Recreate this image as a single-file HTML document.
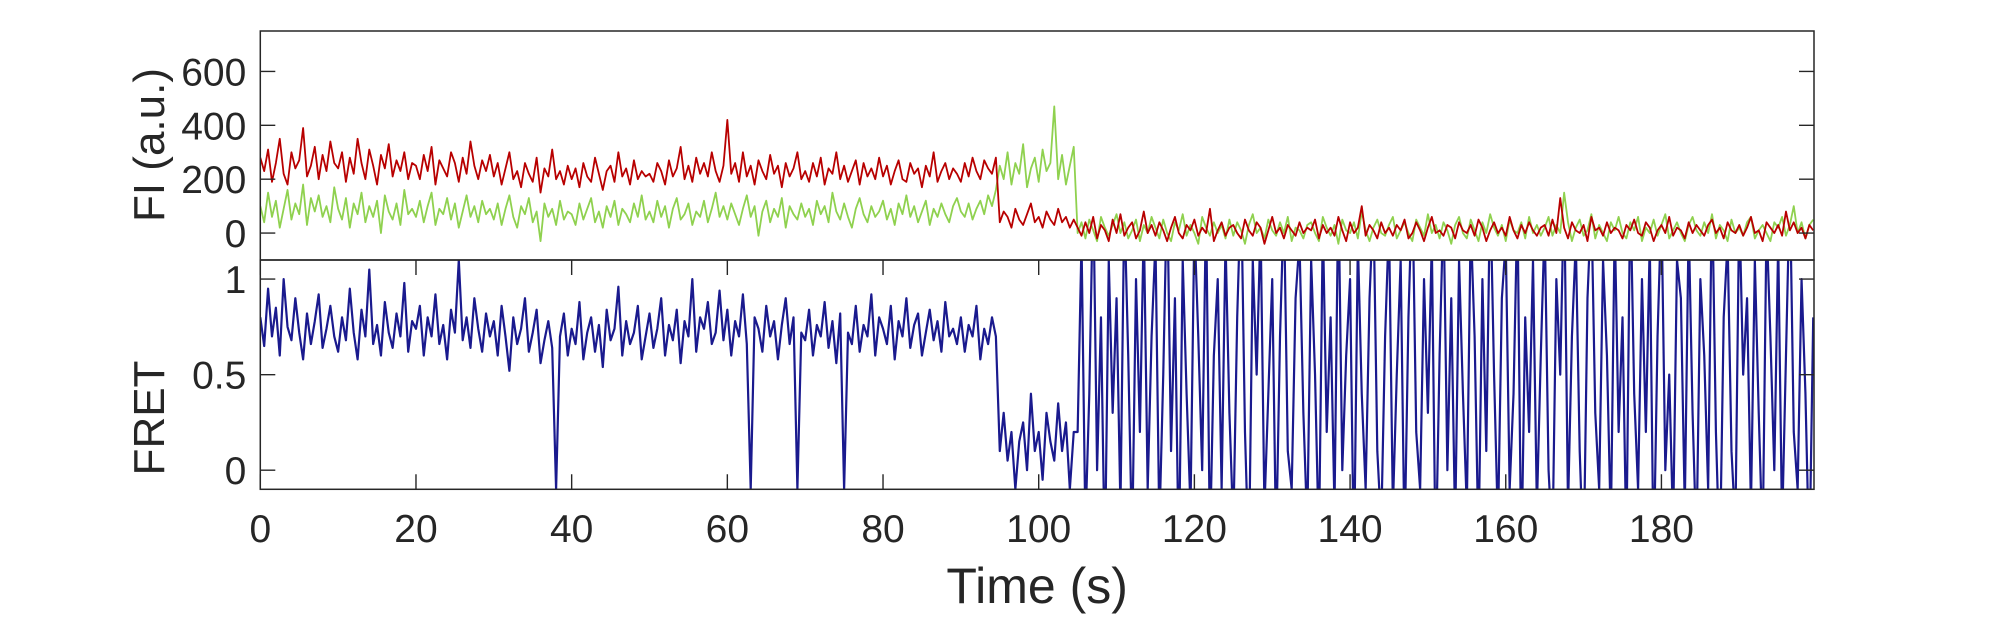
<!DOCTYPE html>
<html><head><meta charset="utf-8"><style>
html,body{margin:0;padding:0;background:#fff;}
svg{display:block;font-family:"Liberation Sans",Arial,sans-serif;}
</style></head><body>
<svg id="chart" width="2005" height="625" viewBox="0 0 2005 625" xmlns="http://www.w3.org/2000/svg">
<defs>
<clipPath id="clipTop"><rect x="260.3" y="31" width="1553.7" height="229"/></clipPath>
<clipPath id="clipBot"><rect x="260.3" y="260" width="1553.7" height="229.3"/></clipPath>
</defs>
<g id="topData" clip-path="url(#clipTop)"></g>
<g id="botData" clip-path="url(#clipBot)"></g>
<g id="axes"></g>
</svg>
<script>
const frameInterval = 0.5;
const acceptorValues = [
280,230,310,190,260,350,220,180,300,240,270,390,210,250,320,200,290,230,340,260,
240,300,190,280,220,350,260,200,310,250,180,290,240,330,210,270,230,300,200,260,
250,200,290,230,320,180,270,240,210,300,260,190,280,220,340,250,200,270,230,290,
210,260,180,240,300,200,230,170,260,220,190,280,150,240,210,310,200,230,180,250,
200,240,170,260,210,190,280,220,160,230,250,190,300,210,240,180,270,200,230,210,
220,190,260,230,180,270,210,240,320,200,250,190,280,220,260,210,300,230,190,250,
420,220,260,190,300,210,250,180,270,230,200,290,220,250,170,260,210,240,300,200,
230,190,260,210,280,180,240,220,300,200,250,190,230,270,180,260,210,240,200,280,
210,250,180,230,270,200,190,260,220,240,170,250,210,300,190,230,260,200,240,220,
190,260,210,280,230,200,270,240,220,280,
40,80,60,20,90,50,30,70,110,40,60,20,80,50,30,90,40,60,20,50,
20,-10,40,0,60,-20,30,10,-30,50,0,70,-10,20,40,-20,10,80,0,30,
-10,40,10,-30,20,60,0,-20,30,10,50,-10,20,0,90,-30,10,40,-10,20,
30,0,-20,50,10,-10,40,20,-40,10,60,0,20,-20,30,10,-10,40,0,20,
10,50,-20,30,0,20,-10,60,10,-30,40,0,20,100,-10,30,10,-20,40,0,
20,-10,30,10,50,-20,0,40,10,-30,20,60,0,10,-10,30,20,-20,40,10,
0,30,-10,50,20,-30,10,40,0,20,-10,60,10,-20,30,0,40,10,-10,20,
30,-10,50,0,130,20,-20,40,10,0,30,-30,60,10,20,-10,40,0,20,10,
-20,30,10,50,0,-10,40,20,-30,10,30,0,60,-10,20,10,-20,40,0,30,
10,-10,30,50,0,20,-20,40,10,0,30,-10,20,60,0,10,-30,40,20,0,
30,-10,80,10,40,0,20,-20,30,10];
const donorValues = [
100,40,150,60,120,20,90,160,50,110,70,180,30,130,80,140,60,100,40,170,
90,50,130,20,110,70,150,40,100,60,120,0,140,80,50,110,30,160,70,90,
60,120,40,100,150,30,90,70,130,50,110,20,80,140,60,100,40,120,70,90,
50,110,30,90,140,60,20,100,70,130,40,80,-30,110,60,90,30,120,50,80,
70,30,110,50,90,130,40,80,20,100,60,120,30,90,70,40,110,60,140,50,
80,40,120,60,100,20,90,130,50,70,110,30,80,60,120,40,90,150,60,100,
50,110,70,30,90,140,60,100,-10,80,120,40,90,60,130,20,100,70,50,110,
60,90,30,120,70,100,40,150,80,50,110,60,20,90,130,70,40,100,60,80,
120,50,90,30,110,70,140,60,100,40,80,120,30,90,60,110,70,40,100,130,
80,60,110,50,90,120,70,140,100,160,
250,200,300,180,260,220,330,170,240,280,190,310,230,260,470,200,290,180,250,320,
0,40,-20,50,10,-30,60,20,-10,30,70,0,40,-20,10,50,-30,30,0,60,
20,-20,50,0,-30,40,10,70,-10,30,0,-40,60,20,-10,40,0,30,-20,50,
-10,40,10,-40,30,70,0,20,-20,50,10,-10,40,0,60,-30,20,10,-20,30,
40,0,-30,60,20,-10,30,-40,50,10,0,40,-20,80,10,-30,20,50,0,-10,
30,60,-20,10,40,0,-30,50,20,-10,70,0,30,-20,40,10,-40,30,60,0,
-20,50,10,-30,40,0,70,20,-10,30,-30,50,10,0,40,-20,60,0,30,-10,
20,60,-10,30,0,150,40,-30,20,50,-10,10,70,-20,30,0,-30,40,10,60,
0,-20,40,10,60,-30,20,0,50,-10,30,70,-20,10,40,0,-30,30,60,10,
-10,40,0,70,-20,30,10,-30,50,0,20,-10,40,60,-20,10,30,0,-30,40,
20,60,-10,30,100,0,40,-20,30,50];
const fretValues = [
0.80,0.65,0.95,0.70,0.85,0.60,1.00,0.75,0.68,0.90,0.72,0.58,0.82,0.66,0.78,0.92,0.64,0.74,0.86,0.70,
0.62,0.80,0.68,0.95,0.72,0.58,0.84,0.70,1.05,0.66,0.76,0.60,0.88,0.72,0.64,0.82,0.70,0.98,0.62,0.78,
0.74,0.86,0.60,0.80,0.70,0.92,0.66,0.76,0.58,0.84,0.72,1.10,0.68,0.80,0.64,0.90,0.74,0.62,0.82,0.70,
0.78,0.60,0.86,0.70,0.52,0.80,0.66,0.74,0.90,0.62,0.72,0.84,0.56,0.68,0.78,0.64,-0.10,0.70,0.82,0.60,
0.74,0.66,0.88,0.58,0.72,0.80,0.62,0.76,0.54,0.84,0.68,0.74,0.96,0.60,0.78,0.66,0.72,0.86,0.58,0.70,
0.82,0.64,0.74,0.90,0.60,0.76,0.68,0.84,0.56,0.78,0.70,1.00,0.62,0.80,0.74,0.88,0.66,0.72,0.94,0.68,
0.84,0.60,0.78,0.70,0.92,0.66,-0.10,0.80,0.74,0.62,0.86,0.70,0.78,0.58,0.76,0.90,0.66,0.80,-0.10,0.72,
0.68,0.84,0.60,0.76,0.70,0.88,0.64,0.78,0.56,0.82,-0.10,0.72,0.66,0.86,0.62,0.76,0.70,0.92,0.60,0.80,
0.74,0.66,0.86,0.58,0.78,0.70,0.90,0.64,0.76,0.82,0.60,0.72,0.84,0.68,0.78,0.62,0.88,0.70,0.74,0.66,
0.80,0.62,0.76,0.70,0.86,0.58,0.74,0.66,0.80,0.70,
0.10,0.30,0.05,0.20,-0.10,0.15,0.25,0.00,0.40,0.10,0.20,-0.05,0.30,0.15,0.05,0.35,0.10,0.25,-0.10,0.20,
0.2,1.2,-0.3,0.4,1.5,0.0,0.8,-0.5,1.1,0.3,0.9,-0.2,1.4,0.6,-0.4,1.0,0.2,1.3,-0.1,0.7,
1.2,-0.3,0.5,1.5,0.1,0.9,-0.5,1.1,0.4,-0.2,1.3,0.7,0.0,1.4,-0.4,0.6,1.0,-0.1,1.2,0.3,
-0.3,0.8,1.5,0.2,-0.5,1.1,0.5,1.3,-0.2,0.4,1.0,-0.4,0.7,1.4,0.1,-0.1,0.9,1.2,0.3,-0.3,
1.1,0.5,-0.4,1.3,0.2,0.8,-0.2,1.5,0.0,0.6,1.0,-0.5,1.2,0.4,-0.1,0.9,1.4,0.1,-0.3,0.7,
1.3,-0.2,0.5,1.1,-0.4,0.8,1.5,0.2,-0.1,1.0,0.3,1.2,-0.5,0.6,1.4,0.0,0.9,-0.3,1.1,0.4,
-0.2,1.3,0.7,-0.4,1.0,0.1,1.5,0.5,-0.3,0.9,1.2,-0.1,0.4,1.4,-0.5,0.8,0.2,1.1,-0.2,0.6,
1.3,0.0,-0.4,1.0,0.5,1.5,-0.2,0.7,1.2,0.1,-0.5,0.9,1.4,0.3,-0.1,1.1,0.6,-0.3,1.3,0.2,
0.8,-0.4,1.5,0.4,-0.1,1.0,0.2,1.2,-0.5,0.7,1.4,0.0,0.5,-0.3,1.1,0.9,-0.2,1.3,0.3,-0.4,
1.0,0.6,-0.1,1.5,0.2,-0.5,0.8,1.2,0.1,-0.3,1.4,0.5,0.9,-0.2,1.1,0.3,-0.4,1.3,0.7,0.0,
1.2,-0.3,0.6,1.5,0.2,-0.1,1.0,0.4,-0.5,0.8];
const xTickValues = [0,20,40,60,80,100,120,140,160,180];
const fiTickValues = [0,200,400,600];
const fretTickValues = [0,0.5,1];
const fretTickLabels = ["0","0.5","1"];

const NS = "http://www.w3.org/2000/svg";
const X0 = 260.3, X1 = 1814, XMIN = 0, XMAX = 199.6;
const T0 = 31, T1 = 260, FMIN = -100, FMAX = 750;
const B0 = 260, B1 = 489.3, RMIN = -0.1, RMAX = 1.1;
const xs = t => X0 + (t - XMIN) / (XMAX - XMIN) * (X1 - X0);
const yTop = v => T1 - (v - FMIN) / (FMAX - FMIN) * (T1 - T0);
const yBot = v => B1 - (v - RMIN) / (RMAX - RMIN) * (B1 - B0);

function mk(tag, attrs, parent) {
  const e = document.createElementNS(NS, tag);
  for (const k in attrs) e.setAttribute(k, attrs[k]);
  parent.appendChild(e);
  return e;
}
function pathFor(vals, yf) {
  let d = "";
  vals.forEach((v, i) => { d += (i ? "L" : "M") + xs(i * frameInterval).toFixed(2) + "," + yf(v).toFixed(2); });
  return d;
}
const topG = document.getElementById("topData");
const botG = document.getElementById("botData");
const ax = document.getElementById("axes");

const gl = mk("path", {d: pathFor(donorValues, yTop), fill: "none", stroke: "#8fd14f", "stroke-width": 1.8, "stroke-linejoin": "round"}, topG);


const rl = mk("path", {d: pathFor(acceptorValues, yTop), fill: "none", stroke: "#b80000", "stroke-width": 1.8, "stroke-linejoin": "round"}, topG);


const bl = mk("path", {d: pathFor(fretValues, yBot), fill: "none", stroke: "#1a1a8e", "stroke-width": 2.2, "stroke-linejoin": "round"}, botG);



const AX = "#262626";
const boxT = mk("rect", {x: X0, y: T0, width: X1 - X0, height: T1 - T0, fill: "none", stroke: AX, "stroke-width": 1.5}, ax);


const boxB = mk("rect", {x: X0, y: B0, width: X1 - X0, height: B1 - B0, fill: "none", stroke: AX, "stroke-width": 1.5}, ax);



const TL = 15;
fiTickValues.forEach(v => {
  const y = yTop(v);
  const t = mk("path", {d: `M${X0},${y}h${TL}M${X1},${y}h${-TL}`, stroke: AX, "stroke-width": 1.4}, ax);
  
  
  const l = mk("text", {x: X0 - 14, y: y + 14, "text-anchor": "end", "font-size": 39, fill: AX}, ax);
  l.textContent = String(v);
  
  
});
fretTickValues.forEach((v, i) => {
  const y = yBot(v);
  const t = mk("path", {d: `M${X0},${y}h${TL}M${X1},${y}h${-TL}`, stroke: AX, "stroke-width": 1.4}, ax);
  
  
  const l = mk("text", {x: X0 - 14, y: y + 14, "text-anchor": "end", "font-size": 39, fill: AX}, ax);
  l.textContent = fretTickLabels[i];
  
  
});
xTickValues.forEach(v => {
  const x = xs(v);
  const t = mk("path", {d: `M${x},${B1}v${-TL}M${x},${B0}v${TL}`, stroke: AX, "stroke-width": 1.4}, ax);
  
  
  const l = mk("text", {x: x, y: 542, "text-anchor": "middle", "font-size": 39, fill: AX}, ax);
  l.textContent = String(v);
  
  
});
const xt = mk("text", {x: (X0 + X1) / 2, y: 603, "text-anchor": "middle", "font-size": 50, fill: AX}, ax);
xt.textContent = "Time (s)";


const yt1 = mk("text", {x: 0, y: 0, "text-anchor": "middle", "font-size": 44, fill: AX, transform: `translate(164,145) rotate(-90)`}, ax);
yt1.textContent = "FI (a.u.)";


const yt2 = mk("text", {x: 0, y: 0, "text-anchor": "middle", "font-size": 44, fill: AX, transform: `translate(164,418) rotate(-90)`}, ax);
yt2.textContent = "FRET";


</script>
</body></html>
